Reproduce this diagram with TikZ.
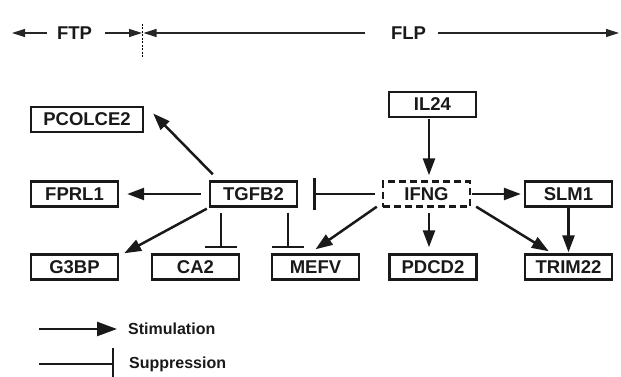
\documentclass[tikz,border=0pt]{standalone}
\usepackage{fontspec}
\setmainfont{Liberation Sans}
\usetikzlibrary{arrows.meta,calc}
\begin{document}
\begin{tikzpicture}[x=1pt,y=-1pt,
  gene/.style={draw=black!90, line width=2.4pt, minimum width=87pt, minimum height=25pt,
    inner sep=0pt, font=\fontsize{18.5}{20}\selectfont\bfseries, text=black!90},
  stim/.style={line width=2.5pt, draw=black!90, -{Triangle[length=17pt,width=12pt]}},
  supp/.style={line width=2.5pt, draw=black!90, -{Bar[width=32pt]}},
  hdr/.style={font=\fontsize{18.5}{20}\selectfont\bfseries, inner sep=0pt, text=black!90},
  hline/.style={line width=1.2pt, draw=black!85},
  leg/.style={font=\fontsize{16}{18}\selectfont\bfseries, inner sep=0pt, anchor=west, text=black!90}]
\useasboundingbox (0,0) rectangle (621,377);
% header
\node[hdr] (FTP) at (74.5,33) {FTP};
\node[hdr] (FLP) at (408.5,33) {FLP};
\coordinate (ftpL) at (12,33);
\coordinate (divR) at (142,33);
\coordinate (divL) at (143.5,33);
\coordinate (flpR) at (619,33);
\coordinate (dtop) at (142.8,24);
\coordinate (dbot) at (142.8,58);
\draw[hline,-{Triangle[length=13pt,width=8pt]}] ($(FTP.west)+(-10,0)$) -- (ftpL);
\draw[hline,-{Triangle[length=13pt,width=8pt]}] ($(FTP.east)+(13,0)$) -- (divR);
\draw[hline,-{Triangle[length=13pt,width=8pt]}] ($(FLP.west)+(-26,0)$) -- (divL);
\draw[hline,-{Triangle[length=13pt,width=8pt]}] ($(FLP.east)+(12,0)$) -- (flpR);
\draw[line width=0.8pt, dash pattern=on 2pt off 1.5pt] (dtop) -- (dbot);
% genes
\node[gene, minimum width=112pt] (PCOLCE2) at (87,119.5) {PCOLCE2};
\node[gene] (FPRL1) at (74.5,194) {FPRL1};
\node[gene] (TGFB2) at (253.5,194) {TGFB2};
\node[gene] (G3BP) at (74.5,267) {G3BP};
\node[gene] (CA2) at (195.5,267) {CA2};
\node[gene] (MEFV) at (315.5,267) {MEFV};
\node[gene] (IL24) at (432.5,104.5) {IL24};
\node[gene, dash pattern=on 7pt off 4pt] (IFNG) at (426.5,194) {IFNG};
\node[gene] (SLM1) at (568.5,194) {SLM1};
\node[gene] (PDCD2) at (433,267) {PDCD2};
\node[gene] (TRIM22) at (568.5,267) {TRIM22};
% helper coordinates
\coordinate (tca0) at ($(TGFB2.south west)+(12,5)$);
\coordinate (tca1) at ($(CA2.north)+(0,-5)$);
\coordinate (tme0) at ($(TGFB2.south east)+(-10,5)$);
\coordinate (tme1) at ($(MEFV.north)+(0,-5)$);
\coordinate (il0) at ($(IL24.south)+(-3.5,1)$);
\coordinate (il1) at ($(IFNG.north)+(0,-5)$);
\coordinate (pd0) at ($(IFNG.south)+(2.5,5)$);
\coordinate (pd1) at ($(PDCD2.north)+(0,-6)$);
% connectors
\draw[stim] ($(TGFB2.north west)+(4,-6)$) -- ($(PCOLCE2.east)+(9,-6)$);
\draw[stim] ($(TGFB2.west)+(-8,0)$) -- ($(FPRL1.east)+(8,0)$);
\draw[stim] ($(TGFB2.south west)+(-2,1)$) -- ($(G3BP.north east)+(5,0)$);
\draw[supp] (tca0) -- (tca0 |- tca1);
\draw[supp] (tme0) -- (tme0 |- tme1);
\draw[supp] ($(IFNG.west)+(-7,0)$) -- ($(TGFB2.east)+(15,0)$);
\draw[stim] (il0) -- (il0 |- il1);
\draw[stim] ($(IFNG.east)+(1,0)$) -- ($(SLM1.west)+(-3,0)$);
\draw[stim] ($(IFNG.south west)+(-5,-1)$) -- ($(MEFV.north)+(0,-4)$);
\draw[stim] (pd0) -- (pd0 |- pd1);
\draw[stim] ($(IFNG.south east)+(5,-1)$) -- ($(TRIM22.north west)+(25,-2)$);
\draw[stim] (SLM1.south) -- ($(TRIM22.north)+(0,-1)$);
% legend
\node[leg] (Lstim) at (128,329) {Stimulation};
\node[leg] (Lsupp) at (129,364) {Suppression};
\coordinate (ls0) at (39,329);
\coordinate (lp0) at (39,364);
\draw[line width=2.5pt, draw=black!90, -{Triangle[length=20pt,width=14pt]}] (ls0) -- ($(Lstim.west)+(-11,0)$);
\draw[supp] (lp0) -- ($(Lsupp.west)+(-15,0)$);
\end{tikzpicture}
\end{document}
